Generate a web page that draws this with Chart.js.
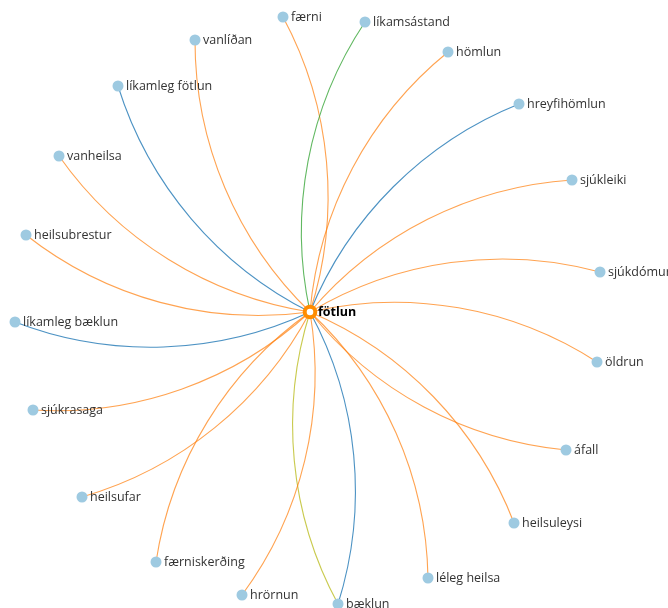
<!DOCTYPE html>
<html>
<head>
<meta charset="utf-8">
<style>
  html, body { margin: 0; padding: 0; background: #fff; }
  #wrap { width: 668px; height: 608px; position: relative; }
</style>
<script src="https://cdn.jsdelivr.net/npm/chart.js@4.4.1/dist/chart.umd.min.js"></script>
</head>
<body>
<div id="wrap"><canvas id="graph"></canvas></div>
<script>
  // hub node
  const hubName = 'fötlun';
  const hubX = 310;
  const hubY = 312;

  // outer nodes, clockwise from the top
  const nodeNames = ['færni', 'líkamsástand', 'hömlun', 'hreyfihömlun', 'sjúkleiki', 'sjúkdómur',
    'öldrun', 'áfall', 'heilsuleysi', 'léleg heilsa', 'bæklun', 'hrörnun', 'færniskerðing',
    'heilsufar', 'sjúkrasaga', 'líkamleg bæklun', 'heilsubrestur', 'vanheilsa',
    'líkamleg fötlun', 'vanlíðan'];
  const nodeX = [283, 365, 448, 519, 572, 600, 597, 566, 514, 428, 338, 242, 156, 82, 33, 15, 26, 59, 118, 195];
  const nodeY = [17, 22, 52, 104, 180, 272, 362, 450, 523, 578, 604, 595, 562, 497, 410, 322, 235, 156, 86, 40];

  // links from the hub: target node, relation group, which side the arc bends to
  const linkTarget = [0, 1, 2, 3, 4, 5, 6, 7, 8, 9, 10, 10, 11, 12, 13, 14, 15, 16, 17, 18, 19];
  const linkGroup  = [0, 2, 0, 1, 0, 0, 0, 0, 0, 0, 1, 3, 0, 0, 0, 0, 1, 0, 0, 1, 0];
  const linkBend   = [-1, 1, 1, 1, 1, 1, 1, -1, 1, 1, 1, -1, 1, -1, 1, 1, 1, 1, 1, 1, 1];

  const groupColors = ['rgba(255,127,14,0.72)', 'rgba(31,119,180,0.8)', 'rgba(44,160,44,0.75)', 'rgba(188,189,34,0.8)'];

  // draws the curved links under the nodes, labels on top
  const linkPlugin = {
    id: 'links',
    beforeDatasetsDraw(chart) {
      const ctx = chart.ctx;
      const xs = chart.scales.x;
      const ys = chart.scales.y;
      const x0 = xs.getPixelForValue(hubX);
      const y0 = ys.getPixelForValue(hubY);
      ctx.save();
      ctx.lineWidth = 1.1;
      linkTarget.forEach((t, i) => {
        const x1 = xs.getPixelForValue(nodeX[t]);
        const y1 = ys.getPixelForValue(nodeY[t]);
        const dx = x1 - x0, dy = y1 - y0;
        const d = Math.sqrt(dx * dx + dy * dy);
        const r = d * 1.28;
        const h = Math.sqrt(r * r - d * d / 4);
        // left normal of the travel direction
        const nx = dy / d, ny = -dx / d;
        const s = linkBend[i];
        const cx = (x0 + x1) / 2 - s * nx * h;
        const cy = (y0 + y1) / 2 - s * ny * h;
        const a0 = Math.atan2(y0 - cy, x0 - cx);
        const a1 = Math.atan2(y1 - cy, x1 - cx);
        let delta = a1 - a0;
        while (delta > Math.PI) delta -= 2 * Math.PI;
        while (delta < -Math.PI) delta += 2 * Math.PI;
        ctx.strokeStyle = groupColors[linkGroup[i]];
        ctx.beginPath();
        ctx.arc(cx, cy, r, a0, a1, delta < 0);
        ctx.stroke();
      });
      ctx.restore();
    },
    afterDatasetsDraw(chart) {
      const ctx = chart.ctx;
      const xs = chart.scales.x;
      const ys = chart.scales.y;
      ctx.save();
      ctx.textBaseline = 'middle';
      ctx.textAlign = 'left';
      ctx.fillStyle = '#333';
      ctx.font = '12.5px "Open Sans", sans-serif';
      nodeNames.forEach((name, i) => {
        ctx.fillText(name, xs.getPixelForValue(nodeX[i]) + 8, ys.getPixelForValue(nodeY[i]));
      });
      ctx.fillStyle = '#000';
      ctx.font = 'bold 12.5px "Open Sans", sans-serif';
      ctx.fillText(hubName, xs.getPixelForValue(hubX) + 8, ys.getPixelForValue(hubY));
      ctx.restore();
    }
  };

  new Chart(document.getElementById('graph'), {
    type: 'scatter',
    data: {
      datasets: [
        {
          label: 'hub',
          data: [{ x: hubX, y: hubY }],
          pointRadius: 5.3,
          backgroundColor: '#fff',
          borderColor: '#ff8c00',
          borderWidth: 4,
          clip: false
        },
        {
          label: 'nodes',
          data: nodeX.map((x, i) => ({ x: x, y: nodeY[i] })),
          pointRadius: 5.5,
          backgroundColor: '#9ecae1',
          borderWidth: 0,
          clip: false
        }
      ]
    },
    options: {
      responsive: true,
      maintainAspectRatio: false,
      animation: false,
      layout: { padding: 0, autoPadding: false },
      plugins: {
        legend: { display: false },
        tooltip: { enabled: false }
      },
      scales: {
        x: { type: 'linear', min: 0, max: 668, display: false },
        y: { type: 'linear', min: 0, max: 608, reverse: true, display: false }
      }
    },
    plugins: [linkPlugin]
  });
</script>
</body>
</html>
